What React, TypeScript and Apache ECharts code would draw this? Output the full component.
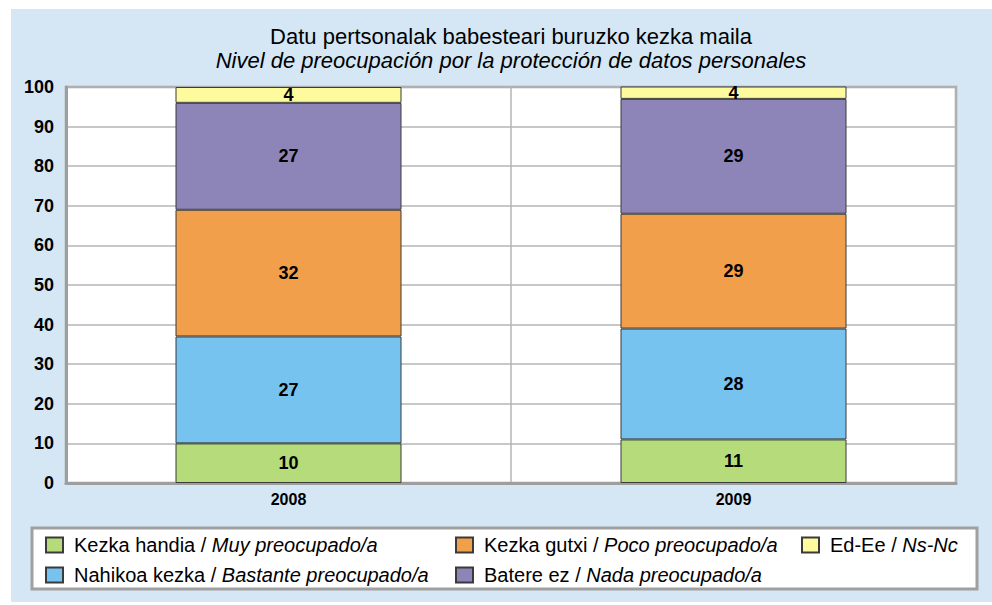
import React, { useEffect, useRef } from "react";
import * as echarts from "echarts";

const titleBasque = "Datu pertsonalak babesteari buruzko kezka maila";
const titleSpanish = "Nivel de preocupación por la protección de datos personales";

const years = ["2008", "2009"];

const seriesBasque = ["Kezka handia", "Nahikoa kezka", "Kezka gutxi", "Batere ez", "Ed-Ee"];
const seriesSpanish = ["Muy preocupado/a", "Bastante preocupado/a", "Poco preocupado/a", "Nada preocupado/a", "Ns-Nc"];

const kezkaHandia = [10, 11];
const nahikoaKezka = [27, 28];
const kezkaGutxi = [32, 29];
const batereEz = [27, 29];
const edEe = [4, 4];

const seriesValues = [kezkaHandia, nahikoaKezka, kezkaGutxi, batereEz, edEe];
const seriesColors = ["#b6db7b", "#77c3f0", "#f19f4a", "#8d85b8", "#fdfb9d"];

const yTicks = [0, 10, 20, 30, 40, 50, 60, 70, 80, 90, 100];

const FONT = "'Liberation Sans', Arial, Helvetica, sans-serif";

export default function App() {
  const ref = useRef<HTMLDivElement>(null);

  useEffect(() => {
    if (!ref.current) return;
    const chart = echarts.init(ref.current, undefined, { renderer: "svg" });
    const names = seriesBasque.map((b, i) => `${b} / ${seriesSpanish[i]}`);

    const legendText = {
      fontFamily: FONT,
      fontSize: 20,
      color: "#000",
      padding: [0, 0, 0, 6],
      rich: {
        n: { fontFamily: FONT, fontSize: 20, color: "#000" },
        i: { fontFamily: FONT, fontSize: 20, color: "#000", fontStyle: "italic" },
      },
    };
    const legendFormatter = (name: string) => {
      const idx = names.indexOf(name);
      return `{n|${seriesBasque[idx]} / }{i|${seriesSpanish[idx]}}`;
    };
    const mkLegend = (data: string[], left: number) => ({
      data,
      orient: "vertical",
      left,
      top: 535,
      padding: 0,
      itemWidth: 17,
      itemHeight: 15,
      itemGap: 10,
      icon: "rect",
      selectedMode: false,
      textStyle: legendText,
      formatter: legendFormatter,
    });

    chart.setOption({
      animation: false,
      textStyle: { fontFamily: FONT },
      title: {
        text: titleBasque,
        subtext: titleSpanish,
        left: 511,
        top: 25,
        textAlign: "center",
        padding: 0,
        itemGap: 2,
        textStyle: { fontFamily: FONT, fontSize: 22, lineHeight: 22, fontWeight: "normal", color: "#000" },
        subtextStyle: { fontFamily: FONT, fontSize: 22, lineHeight: 22, fontStyle: "italic", color: "#000" },
      },
      graphic: [
        {
          type: "rect",
          silent: true,
          z: -10,
          shape: { x: 11, y: 9, width: 981, height: 593 },
          style: { fill: "#d5e7f5" },
        },
        {
          type: "rect",
          silent: true,
          z: 1,
          shape: { x: 32, y: 528, width: 945, height: 61 },
          style: { fill: "#ffffff", stroke: "#a0a0a0", lineWidth: 3 },
        },
      ],
      legend: [
        mkLegend([names[0], names[1]], 45),
        mkLegend([names[2], names[3]], 455),
        mkLegend([names[4]], 801),
      ],
      grid: {
        left: 66,
        right: 36,
        top: 87,
        bottom: 122,
        show: true,
        backgroundColor: "#ffffff",
        borderColor: "#a4a4a4",
        borderWidth: 2.5,
      },
      xAxis: {
        type: "category",
        data: years,
        axisTick: { show: false },
        axisLine: { show: true, lineStyle: { color: "#9e9e9e", width: 3 } },
        splitLine: { show: true, lineStyle: { color: "#b4b4b4", width: 1.5 } },
        axisLabel: { color: "#000", fontFamily: FONT, fontWeight: "bold", fontSize: 16, margin: 8 },
      },
      yAxis: {
        type: "value",
        min: yTicks[0],
        max: yTicks[yTicks.length - 1],
        interval: yTicks[1] - yTicks[0],
        axisTick: { show: false },
        axisLine: { show: true, lineStyle: { color: "#9e9e9e", width: 3 } },
        splitLine: { show: true, lineStyle: { color: "#b4b4b4", width: 1.5 } },
        axisLabel: { color: "#000", fontFamily: FONT, fontWeight: "bold", fontSize: 18, margin: 12 },
      },
      series: seriesValues.map((vals, i) => ({
        name: names[i],
        type: "bar",
        stack: "total",
        barWidth: 226,
        data: vals,
        clip: true,
        itemStyle: { color: seriesColors[i], borderColor: "#3a3a3a", borderWidth: 1 },
        label: {
          show: true,
          position: "inside",
          color: "#000",
          fontFamily: FONT,
          fontWeight: "bold",
          fontSize: 18,
        },
      })),
    });
    return () => chart.dispose();
  }, []);

  return (
    <div
      ref={ref}
      style={{ position: "fixed", left: 0, top: 0, width: 992, height: 605, background: "#ffffff" }}
    />
  );
}
